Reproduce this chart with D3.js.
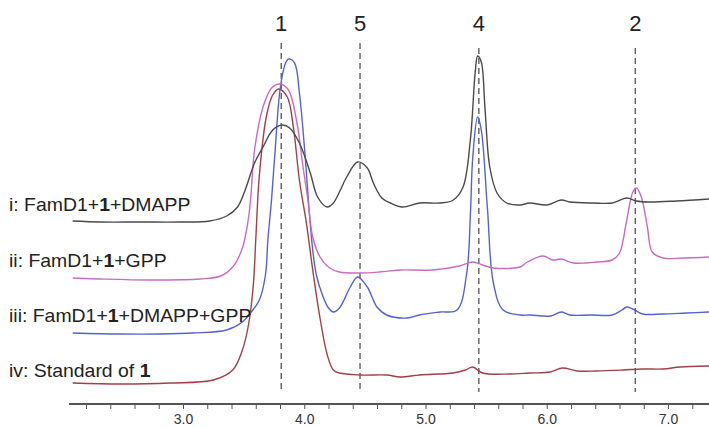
<!DOCTYPE html>
<html>
<head>
<meta charset="utf-8">
<script src="https://cdn.jsdelivr.net/npm/d3@7"></script>
<style>
body { margin: 0; background: #fff; }
svg { display: block; font-family: "Liberation Sans", Arial, sans-serif; }
</style>
</head>
<body>
<div id="chart"></div>
<script>
// retention time (min) / response, each trace relative to its own baseline
var traceI = [
    [2.09,3],[2.32,2],[2.65,2],[2.98,2],[3.22,3],[3.36,8],[3.45,17],[3.51,33],[3.59,61],[3.66,77],
    [3.74,94],[3.82,99],[3.88,96],[3.96,81],[4.05,51],[4.11,27],[4.19,17],[4.24,21],[4.29,32],[4.35,47],
    [4.44,62],[4.52,56],[4.57,41],[4.64,26],[4.71,21],[4.81,17],[4.95,21],[5.12,21],[5.23,24],[5.31,37],
    [5.37,84],[5.41,152],[5.43,168],[5.46,162],[5.49,117],[5.53,57],[5.59,31],[5.67,21],[5.78,19],[5.86,21],
    [6.00,19],[6.12,24],[6.19,22],[6.38,21],[6.54,21],[6.66,26],[6.74,23],[6.85,22],[7.07,23],[7.34,25]
];
var traceII = [
    [2.09,2],[2.32,1],[2.73,0],[3.14,1],[3.31,4],[3.41,13],[3.49,32],[3.54,62],[3.56,85],[3.59,130],
    [3.66,173],[3.73,192],[3.80,196],[3.87,190],[3.94,157],[3.99,113],[4.03,80],[4.07,43],[4.13,23],[4.21,12],
    [4.29,8],[4.46,7],[4.62,8],[4.79,10],[5.06,10],[5.28,14],[5.39,18],[5.47,15],[5.56,12],[5.78,13],
    [5.84,18],[5.97,24],[6.05,20],[6.12,21],[6.22,17],[6.41,18],[6.54,20],[6.60,27],[6.66,60],[6.71,88],
    [6.74,92],[6.78,83],[6.83,53],[6.87,28],[6.96,22],[7.12,22],[7.34,23]
];
var traceIII = [
    [2.09,1],[2.48,0],[2.81,0],[3.08,1],[3.36,4],[3.49,12],[3.55,20],[3.63,34],[3.68,59],[3.70,94],
    [3.73,134],[3.76,184],[3.80,244],[3.84,269],[3.87,275],[3.92,271],[3.96,241],[4.01,174],[4.04,124],[4.07,84],
    [4.10,59],[4.15,39],[4.20,26],[4.24,22],[4.29,26],[4.38,47],[4.44,57],[4.52,47],[4.60,27],[4.68,19],
    [4.85,16],[4.95,19],[5.12,22],[5.26,24],[5.34,61],[5.37,119],[5.39,177],[5.43,217],[5.46,204],[5.51,127],
    [5.56,51],[5.64,24],[5.78,19],[5.86,19],[6.03,18],[6.12,22],[6.19,19],[6.36,19],[6.54,19],[6.62,24],
    [6.66,27],[6.71,25],[6.79,20],[6.96,20],[7.15,21],[7.34,22]
];
var traceIV = [
    [2.09,1],[2.48,0],[2.89,1],[3.25,4],[3.41,14],[3.49,34],[3.54,59],[3.58,99],[3.60,144],[3.63,209],
    [3.69,269],[3.74,289],[3.79,295],[3.86,287],[3.91,257],[3.96,204],[4.02,159],[4.07,114],[4.13,66],[4.19,29],
    [4.24,14],[4.29,11],[4.46,9],[4.68,9],[4.79,7],[4.95,9],[5.23,11],[5.33,14],[5.39,17],[5.47,11],
    [5.70,10],[5.86,11],[6.03,12],[6.13,16],[6.25,13],[6.41,13],[6.63,14],[6.79,15],[6.96,15],[7.10,17],[7.34,18]
];
var traceNames = ["i: FamD1+", "ii: FamD1+", "iii: FamD1+", "iv: Standard of "];
var traceTails = ["+DMAPP", "+GPP", "+DMAPP+GPP", ""];
var traceOffsets = [180, 124, 70, 20];
var traceColors = ["#4a4a4a", "#c86cc2", "#5562d0", "#9e4047"];

var peakLabels = ["1", "5", "4", "2"];
var peakTimes = [3.81, 4.46, 5.44, 6.73];

var ticks = d3.range(2.2, 7.3, 0.2);
var majorTicks = [3, 4, 5, 6, 7];

var width = 709, height = 427;
var svg = d3.select("#chart").append("svg").attr("width", width).attr("height", height);

var x = d3.scaleLinear().domain([3, 7]).range([183, 668]);
var y = d3.scaleLinear().domain([0, 404]).range([404, 0]);

// axis
var axis = d3.axisBottom(x)
    .tickValues(ticks)
    .tickSize(5)
    .tickFormat(function(d){
        var isMajor = majorTicks.some(function(m){ return Math.abs(m - d) < 1e-6; });
        return isMajor ? d3.format(".1f")(d) : "";
    });
var gx = svg.append("g").attr("transform", "translate(0,404)").call(axis);
gx.select(".domain").remove();
gx.append("line").attr("x1", 69).attr("x2", width).attr("y1", 0).attr("y2", 0)
    .attr("stroke", "#555").attr("stroke-width", 2);
gx.selectAll(".tick line").attr("stroke", "#555").attr("stroke-width", 1);
gx.selectAll(".tick text").attr("fill", "#333").attr("font-size", 14)
    .attr("font-family", "Liberation Sans, Arial, sans-serif").attr("y", 20).attr("dy", 0);

// dashed peak markers
var tops = [43, 43, 48, 48];
peakTimes.forEach(function(t, i){
    svg.append("line")
        .attr("x1", x(t)).attr("x2", x(t))
        .attr("y1", tops[i]).attr("y2", 392)
        .attr("stroke", "#444").attr("stroke-width", 1.2)
        .attr("stroke-dasharray", "6,4");
    svg.append("text")
        .attr("x", x(t)).attr("y", 31)
        .attr("text-anchor", "middle")
        .attr("font-size", 22).attr("fill", "#222")
        .text(peakLabels[i]);
});

var traces = [traceI, traceII, traceIII, traceIV];
var line = d3.line().curve(d3.curveCatmullRom.alpha(0.5));

[3, 2, 1, 0].forEach(function(k){
    var off = traceOffsets[k];
    svg.append("path")
        .attr("d", line(traces[k].map(function(p){ return [x(p[0]), y(p[1] + off)]; })))
        .attr("fill", "none")
        .attr("stroke", traceColors[k])
        .attr("stroke-width", 1.4);
});

// trace names
var labelY = [211, 267, 322, 377];
traceNames.forEach(function(name, i){
    var t = svg.append("text")
        .attr("transform", "translate(9," + labelY[i] + ") scale(1.08,1)")
        .attr("font-size", 18).attr("fill", "#222");
    t.append("tspan").text(name);
    t.append("tspan").attr("font-weight", "bold").text("1");
    t.append("tspan").text(traceTails[i]);
});
</script>
</body>
</html>
